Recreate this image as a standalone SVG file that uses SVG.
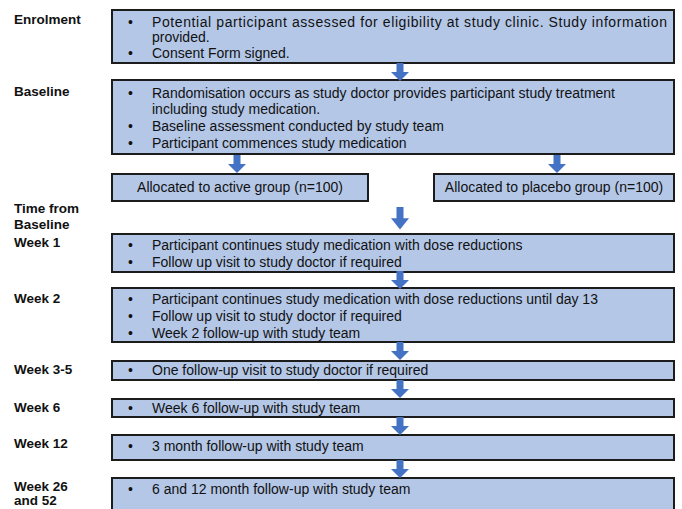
<svg xmlns="http://www.w3.org/2000/svg" width="682" height="509" viewBox="0 0 682 509">
<style>
.box{fill:#b4c7e7;stroke:#1c1c1c;stroke-width:2}
.t{font-family:"Liberation Sans",Arial,sans-serif;font-size:14px;fill:#111}
.lab{font-family:"Liberation Sans",Arial,sans-serif;font-size:13.5px;font-weight:bold;fill:#111}
.arr{fill:#4472c4}
</style>
<defs>
<path id="ar" d="M-3.5,0 H3.5 V9 H9 L0,18 L-9,9 H-3.5 Z"/>
</defs>
<rect width="682" height="509" fill="#fff"/>
<g id="labels">
<text class="lab" x="14" y="24">Enrolment</text>
<text class="lab" x="14" y="96">Baseline</text>
<text class="lab" x="14" y="213">Time from</text>
<text class="lab" x="14" y="229">Baseline</text>
<text class="lab" x="14" y="247">Week 1</text>
<text class="lab" x="14" y="303">Week 2</text>
<text class="lab" x="14" y="374">Week 3-5</text>
<text class="lab" x="14" y="412">Week 6</text>
<text class="lab" x="14" y="448">Week 12</text>
<text class="lab" x="14" y="491">Week 26</text>
<text class="lab" x="14" y="505">and 52</text>
</g>
<g id="enrolment">
<rect class="box" x="112" y="10" width="562" height="53"/>
<text class="t" x="128" y="27">•</text>
<text class="t" x="152" y="27" textLength="515" lengthAdjust="spacing">Potential participant assessed for eligibility at study clinic. Study information</text>
<text class="t" x="152" y="42">provided.</text>
<text class="t" x="128" y="58">•</text>
<text class="t" x="152" y="58">Consent Form signed.</text>
</g>
<g id="baseline">
<rect class="box" x="112" y="80" width="562" height="74"/>
<text class="t" x="128" y="98">•</text>
<text class="t" x="152" y="98">Randomisation occurs as study doctor provides participant study treatment</text>
<text class="t" x="152" y="114">including study medication.</text>
<text class="t" x="128" y="131">•</text>
<text class="t" x="152" y="131">Baseline assessment conducted by study team</text>
<text class="t" x="128" y="148">•</text>
<text class="t" x="152" y="148">Participant commences study medication</text>
</g>
<g id="active">
<rect class="box" x="112" y="174" width="256" height="27"/>
<text class="t" x="240" y="192" text-anchor="middle">Allocated to active group (n=100)</text>
</g>
<g id="placebo">
<rect class="box" x="434" y="174" width="240" height="27"/>
<text class="t" x="554" y="192" text-anchor="middle">Allocated to placebo group (n=100)</text>
</g>
<g id="week1">
<rect class="box" x="112" y="234" width="562" height="38"/>
<text class="t" x="128" y="250">•</text>
<text class="t" x="152" y="250">Participant continues study medication with dose reductions</text>
<text class="t" x="128" y="267">•</text>
<text class="t" x="152" y="267">Follow up visit to study doctor if required</text>
</g>
<g id="week2">
<rect class="box" x="112" y="288" width="562" height="54"/>
<text class="t" x="128" y="304">•</text>
<text class="t" x="152" y="304">Participant continues study medication with dose reductions until day 13</text>
<text class="t" x="128" y="321">•</text>
<text class="t" x="152" y="321">Follow up visit to study doctor if required</text>
<text class="t" x="128" y="338">•</text>
<text class="t" x="152" y="338">Week 2 follow-up with study team</text>
</g>
<g id="week3-5">
<rect class="box" x="112" y="361" width="562" height="19"/>
<text class="t" x="128" y="375">•</text>
<text class="t" x="152" y="375">One follow-up visit to study doctor if required</text>
</g>
<g id="week6">
<rect class="box" x="112" y="399" width="562" height="18"/>
<text class="t" x="128" y="413">•</text>
<text class="t" x="152" y="413">Week 6 follow-up with study team</text>
</g>
<g id="week12">
<rect class="box" x="112" y="435" width="562" height="25"/>
<text class="t" x="128" y="451">•</text>
<text class="t" x="152" y="451">3 month follow-up with study team</text>
</g>
<g id="week26">
<rect class="box" x="112" y="478" width="562" height="40"/>
<text class="t" x="128" y="494">•</text>
<text class="t" x="152" y="494">6 and 12 month follow-up with study team</text>
</g>
<g id="connectors" class="arr">
<use href="#ar" transform="translate(400,63)"/>
<use href="#ar" transform="translate(237,155)"/>
<use href="#ar" transform="translate(557,155)"/>
<use href="#ar" transform="translate(400,207) scale(1,1.25)"/>
<use href="#ar" transform="translate(400,271)"/>
<use href="#ar" transform="translate(400,342)"/>
<use href="#ar" transform="translate(400,380)"/>
<use href="#ar" transform="translate(400,417)"/>
<use href="#ar" transform="translate(400,460)"/>
</g>
</svg>
